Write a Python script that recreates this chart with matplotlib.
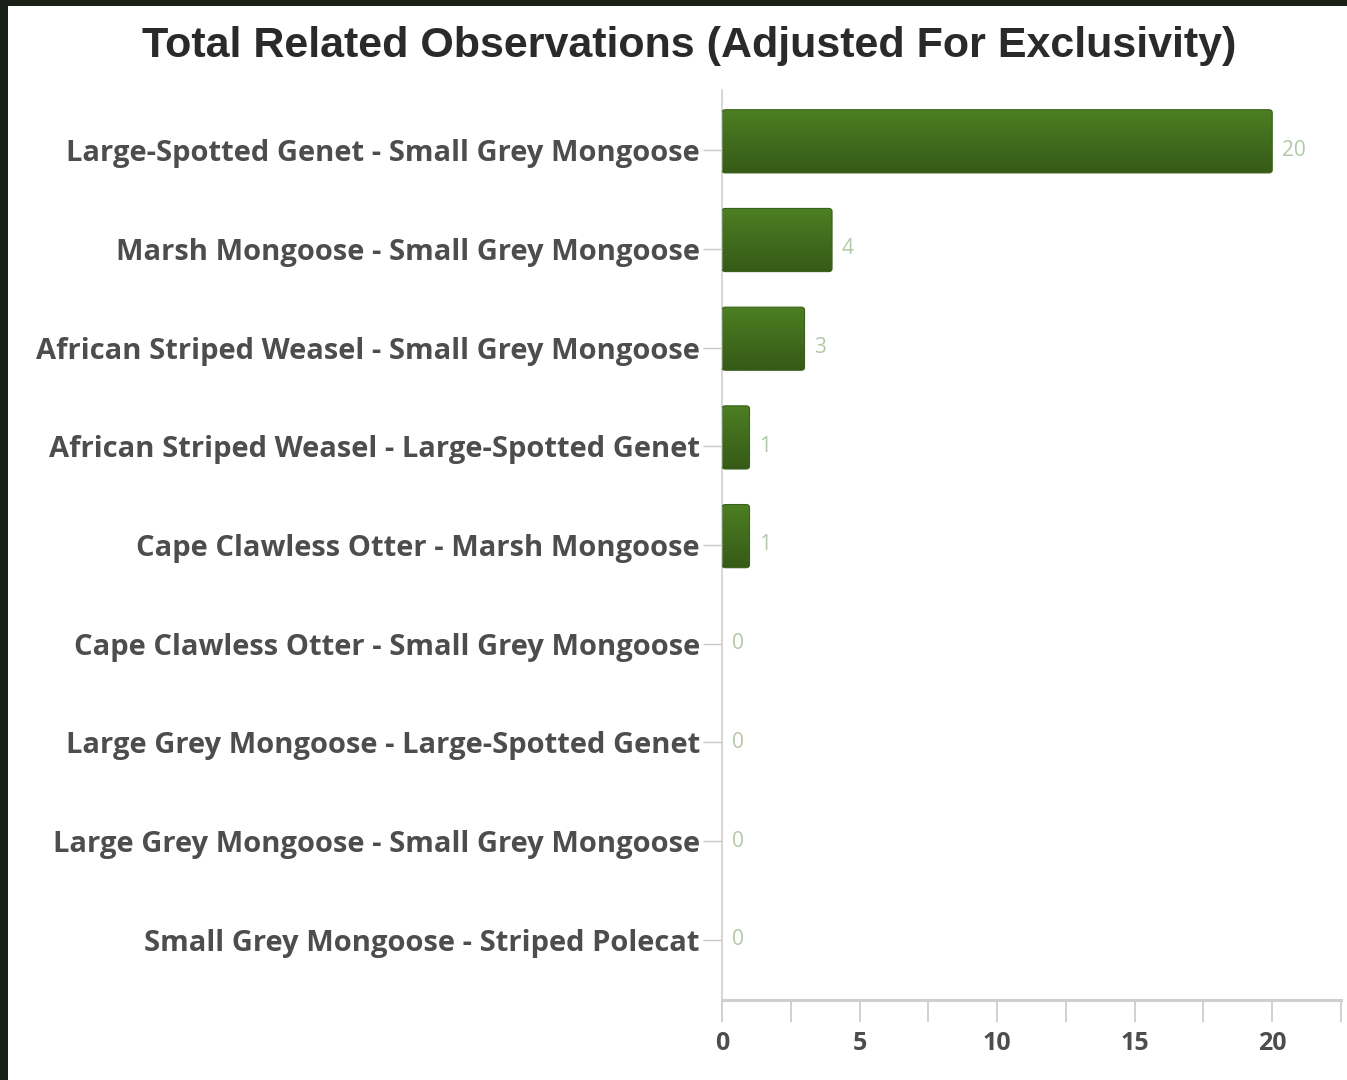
import numpy as np
import matplotlib
matplotlib.use("Agg")
import matplotlib.pyplot as plt
from matplotlib.patches import Rectangle, FancyBboxPatch

pairs = [
    "Large-Spotted Genet - Small Grey Mongoose",
    "Marsh Mongoose - Small Grey Mongoose",
    "African Striped Weasel - Small Grey Mongoose",
    "African Striped Weasel - Large-Spotted Genet",
    "Cape Clawless Otter - Marsh Mongoose",
    "Cape Clawless Otter - Small Grey Mongoose",
    "Large Grey Mongoose - Large-Spotted Genet",
    "Large Grey Mongoose - Small Grey Mongoose",
    "Small Grey Mongoose - Striped Polecat",
]
counts = [20, 4, 3, 1, 1, 0, 0, 0, 0]
major_ticks = [0, 5, 10, 15, 20]

fig = plt.figure(figsize=(13.47, 10.8), dpi=100)
fig.patch.set_facecolor("#1b2016")
# white panel inside the dark frame
fig.add_artist(Rectangle((8 / 1347, 0), 1, 1 - 6 / 1080, transform=fig.transFigure,
                         facecolor="white", edgecolor="none", zorder=0))

ax = fig.add_axes([722 / 1347, 80 / 1080, (1341 - 722) / 1347, (1000 - 90) / 1080])
ax.set_facecolor("none")

y = np.arange(len(pairs))
bar_h = 0.64
shift = -0.09  # bars sit slightly above their ticks
grad = np.linspace(0, 1, 64).reshape(-1, 1)
cmap = matplotlib.colors.LinearSegmentedColormap.from_list("g", ["#4c7f22", "#365a18"])
for yi, v in zip(y, counts):
    yc = yi + shift
    if v > 0:
        patch = FancyBboxPatch((0, yc - bar_h / 2), v, bar_h,
                               boxstyle="round,pad=0,rounding_size=0.12",
                               mutation_aspect=0.25,
                               facecolor="none", edgecolor="#3a6019", linewidth=0.8, zorder=3)
        ax.add_patch(patch)
        im = ax.imshow(grad, extent=(0, v, yc + bar_h / 2, yc - bar_h / 2), cmap=cmap,
                       aspect="auto", zorder=2, interpolation="bilinear")
        im.set_clip_path(patch)
    ax.text(v + 0.35, yi, str(v), va="center", ha="left", fontsize=15,
            color="#b3c8a8", family="Open Sans")

xt = np.arange(0, 22.6, 2.5)
ax.set_xlim(0, 22.5)
ax.set_ylim(len(pairs) - 0.39, -0.61)
ax.set_yticks(y, pairs)
ax.set_xticks(xt, [str(int(t)) if t in major_ticks else "" for t in xt])

for lab in ax.get_yticklabels():
    lab.set_fontfamily("Open Sans")
    lab.set_fontweight("bold")
    lab.set_fontsize(21)
    lab.set_color("#4d4d4d")
for lab in ax.get_xticklabels():
    lab.set_fontfamily("Open Sans")
    lab.set_fontweight("bold")
    lab.set_fontsize(18)
    lab.set_color("#4d4d4d")

ax.tick_params(axis="y", length=14, width=1, color="#c8c8c8", pad=2)
ax.tick_params(axis="x", length=16, width=1.2, color="#c8c8c8", pad=6)
ax.spines[["right", "top"]].set_visible(False)
ax.spines["left"].set_color("#cfcfcf")
ax.spines["left"].set_linewidth(1.2)
ax.spines["bottom"].set_color("#cfcfcf")
ax.spines["bottom"].set_linewidth(2.2)

fig.text(689 / 1347, 1 - 46 / 1080, "Total Related Observations (Adjusted For Exclusivity)",
         ha="center", va="center", fontsize=31, fontweight="bold",
         family="Liberation Sans", color="#2a2a2a")

fig.savefig("out.png", dpi=100, facecolor=fig.get_facecolor())
